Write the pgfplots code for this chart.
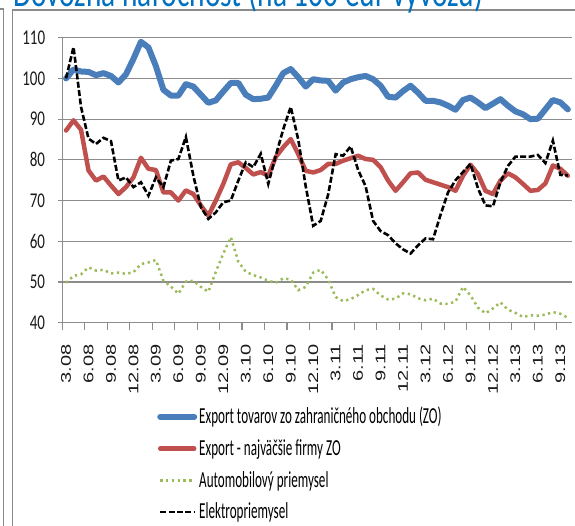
\documentclass[border=0pt]{standalone}
\usepackage{fontspec}
\setmainfont{Carlito}
\newfontfamily\arialf{Liberation Sans}
\usepackage{graphicx}
\usepackage{pgfplots}
\usepackage{pgfplotstable}
\pgfplotsset{compat=1.18}
\definecolor{xblue}{HTML}{4A7EBB}
\definecolor{xred}{HTML}{C0504D}
\definecolor{xgreen}{HTML}{9BBB59}
\definecolor{gridgray}{HTML}{8C8C8C}
\definecolor{framegray}{HTML}{8A8A8A}
\definecolor{titleblue}{HTML}{0070C0}
\newcommand\yl[1]{\scalebox{1}[1.4]{\fontsize{15}{18}\selectfont #1}}
\newcommand\xl[1]{\scalebox{1.43}[1]{\fontsize{14}{16}\selectfont\arialf #1}}
\newcommand\legtxt[1]{\raisebox{-7.6pt}[0pt][0pt]{\scalebox{1}[1.75]{\fontsize{13.1}{16}\selectfont #1}}}

\pgfplotstableread{
i b r g k
0 100.0 87.2 49.8 100.0
1 102.2 89.7 51.5 107.7
2 101.7 87.4 51.9 93.0
3 101.6 77.4 53.6 85.2
4 100.8 74.9 52.8 83.9
5 101.3 75.9 53.0 85.4
6 100.6 73.7 52.1 84.6
7 99.0 71.6 52.3 74.9
8 101.0 73.3 52.0 75.7
9 104.8 75.7 52.4 73.3
10 109.0 80.5 54.4 74.5
11 107.6 77.8 54.8 71.2
12 103.0 77.5 55.4 75.7
13 97.2 72.0 50.3 73.3
14 95.8 72.0 48.9 79.8
15 95.8 70.0 47.1 80.2
16 98.6 72.5 50.1 85.6
17 98.0 71.6 50.3 76.1
18 96.0 68.8 48.8 68.4
19 94.0 66.3 47.6 65.5
20 94.6 70.0 52.5 67.1
21 96.8 74.1 57.0 69.6
22 98.9 78.9 61.0 70.0
23 98.9 79.4 55.0 74.9
24 96.0 78.0 52.5 79.4
25 94.9 76.4 51.7 78.2
26 95.0 77.0 51.1 81.5
27 95.3 76.1 50.3 74.1
28 98.2 80.7 49.8 81.0
29 101.3 83.1 50.9 87.5
30 102.3 85.1 50.6 93.0
31 100.3 81.4 48.0 85.0
32 98.0 77.3 48.8 73.5
33 99.8 76.9 52.3 63.8
34 99.5 77.5 53.0 65.0
35 99.4 79.0 50.6 71.5
36 97.0 79.0 46.3 81.4
37 99.0 79.8 45.3 81.0
38 99.8 80.4 45.8 83.3
39 100.3 81.0 46.8 77.5
40 100.6 80.2 48.0 73.5
41 99.8 80.0 48.3 65.0
42 98.2 78.2 46.7 62.5
43 95.5 74.9 45.7 61.5
44 95.3 72.4 45.9 59.5
45 96.9 74.5 47.2 58.0
46 98.2 76.7 47.0 57.0
47 96.5 76.9 46.0 59.0
48 94.5 75.1 45.5 60.7
49 94.5 74.5 45.9 60.5
50 94.1 73.9 44.7 66.5
51 93.3 73.3 44.6 72.0
52 92.3 72.4 45.2 75.0
53 94.7 76.1 48.8 77.0
54 95.3 78.8 46.7 79.0
55 94.1 76.5 43.7 73.0
56 92.7 72.4 42.3 68.8
57 93.8 71.6 43.5 68.6
58 94.9 74.9 45.0 74.5
59 93.3 76.7 43.2 78.5
60 91.9 75.7 42.4 80.8
61 91.2 74.1 41.4 80.8
62 90.0 72.4 41.8 80.8
63 90.1 72.6 41.7 81.2
64 92.4 74.2 42.0 79.2
65 94.7 78.6 42.6 84.7
66 94.1 77.8 42.2 76.3
67 92.4 76.1 41.2 76.2
}\datatable

\begin{document}
\begin{tikzpicture}[x=1pt,y=1pt]
\useasboundingbox (-62.3,-203.3) rectangle (512.7,322.7);
\clip (-62.3,-203.3) rectangle (512.7,322.7);
\begin{scope}[shift={(-62.3pt,-203.3pt)}]
% frames
\draw[framegray, line width=1.2pt] (0,517) -- (3.3,517) -- (3.3,0);
\draw[framegray, line width=1.6pt] (12.7,0) -- (12.7,516) -- (575,516);
% title (cut by the top edge)
\node[anchor=base west, inner sep=0pt, text=titleblue] at (13,519.5)
  {\scalebox{1}[1.4]{\fontsize{29.4}{32}\selectfont Dovozná náročnosť (na 100 eur vývozu)}};
\end{scope}
\begin{axis}[
  scale only axis, width=509.3pt, height=285pt,
  xmin=-0.5, xmax=67.5, ymin=40, ymax=110,
  axis lines=left,
  axis line style={-, draw=gridgray, line width=1.2pt},
  tick align=outside,
  major tick length=4pt, minor tick length=7pt,
  ytick={40,50,60,70,80,90,100,110},
  yticklabels={\yl{40},\yl{50},\yl{60},\yl{70},\yl{80},\yl{90},\yl{100},\yl{110}},
  ymajorgrids, grid style={draw=gridgray, line width=1.2pt},
  major tick style={draw=gridgray, line width=1.2pt},
  minor tick style={draw=gridgray, line width=1.2pt},
  major x tick style={draw=none},
  xtick={0,3,...,66},
  minor xtick={-0.5,2.5,...,65.5},
  xticklabels={\xl{3.08},\xl{6.08},\xl{9.08},\xl{12.08},\xl{3.09},\xl{6.09},\xl{9.09},\xl{12.09},\xl{3.10},\xl{6.10},\xl{9.10},\xl{12.10},\xl{3.11},\xl{6.11},\xl{9.11},\xl{12.11},\xl{3.12},\xl{6.12},\xl{9.12},\xl{12.12},\xl{3.13},\xl{6.13},\xl{9.13}},
  xticklabel style={rotate=90, anchor=east, inner sep=0pt, text=black!90},
  yticklabel style={anchor=east, inner sep=0pt, text=black!90},
  xticklabel shift=17.3pt,
  yticklabel shift=13pt,
  legend style={at={(0.186,-0.2947)}, anchor=north west, draw=none, fill=none,
    inner sep=0pt, row sep=11.7pt, column sep=2pt,
    nodes={inner sep=0pt, minimum height=20pt}},
  legend cell align=left,
  legend image code/.code={\draw[#1] (3pt,0pt) -- (37pt,0pt);},
]
\addplot[xblue, line width=6pt, line cap=round, line join=round] table[x=i,y=b] {\datatable};
\addlegendentry{\legtxt{Export tovarov zo zahraničného obchodu (ZO)}}
\addplot[xred, line width=4.5pt, line cap=round, line join=round] table[x=i,y=r] {\datatable};
\addlegendentry{\legtxt{Export - najväčšie firmy ZO}}
\addplot[xgreen, line width=2.5pt, dash pattern=on 2.3pt off 3.5pt] table[x=i,y=g] {\datatable};
\addlegendentry{\legtxt{Automobilový priemysel}}
\addplot[black, line width=2.6pt, dash pattern=on 6pt off 2.4pt] table[x=i,y=k] {\datatable};
\addlegendentry{\legtxt{Elektropriemysel}}
\end{axis}
\end{tikzpicture}
\end{document}
